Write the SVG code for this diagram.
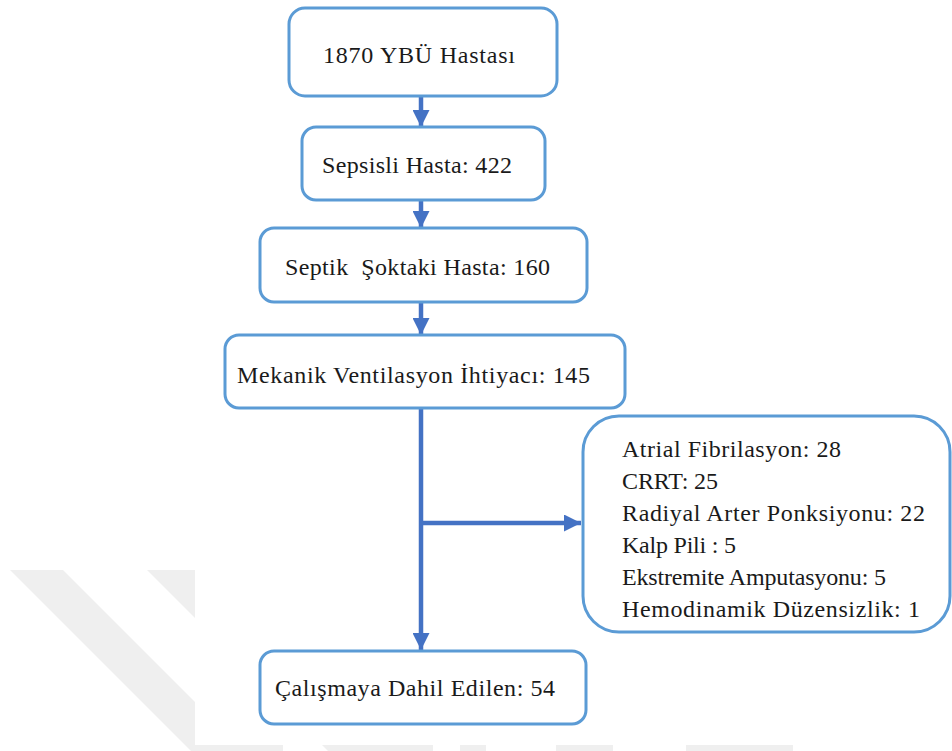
<svg xmlns="http://www.w3.org/2000/svg" width="952" height="751" viewBox="0 0 952 751">
<style>
.box{fill:#ffffff;stroke:#5B9BD5;stroke-width:3}
.c{stroke:#4472C4;stroke-width:4.5;fill:none}
.wm{fill:#efefef}
</style>
<defs>
<marker id="ah" markerUnits="userSpaceOnUse" markerWidth="17" markerHeight="17" refX="17" refY="8.5" orient="auto">
<path d="M0,0 L17,8.5 L0,17 Z" fill="#4472C4"/>
</marker>
</defs>
<rect width="952" height="751" fill="#ffffff"/>
<g id="watermark">
<polygon class="wm" points="10,570 63,570 244,751 191,751"/>
<polygon class="wm" points="147,570 197,570 378,751 328,751"/>
<rect x="195" y="0" width="757" height="745" fill="#ffffff"/>
<rect class="wm" x="195" y="745" width="88" height="6"/>
<rect class="wm" x="330" y="745" width="103" height="6"/>
<rect class="wm" x="460" y="745" width="26" height="6"/>
<rect class="wm" x="556" y="745" width="57" height="6"/>
<rect class="wm" x="686" y="745" width="107" height="6"/>
</g>
<g id="connectors">
<line class="c" x1="421" y1="97" x2="421" y2="127" marker-end="url(#ah)"/>
<line class="c" x1="421" y1="200" x2="421" y2="228" marker-end="url(#ah)"/>
<line class="c" x1="421" y1="302" x2="421" y2="335" marker-end="url(#ah)"/>
<line class="c" x1="421" y1="408" x2="421" y2="650" marker-end="url(#ah)"/>
<line class="c" x1="421" y1="523" x2="581" y2="523" marker-end="url(#ah)"/>
</g>
<g font-family="Liberation Serif, Times New Roman, Tinos, Noto Serif, DejaVu Serif, serif" font-size="24" fill="#1a1a1a">
<g id="n1">
<rect class="box" x="289" y="8" width="268" height="88" rx="16"/>
<text x="323" y="63" textLength="192">1870 YBÜ Hastası</text>
</g>
<g id="n2">
<rect class="box" x="302" y="127" width="243" height="73" rx="14"/>
<text x="322" y="173" textLength="190">Sepsisli Hasta: 422</text>
</g>
<g id="n3">
<rect class="box" x="260" y="228" width="327" height="74" rx="14"/>
<text x="285" y="275" textLength="265" xml:space="preserve">Septik  Şoktaki Hasta: 160</text>
</g>
<g id="n4">
<rect class="box" x="225" y="335" width="400" height="73" rx="14"/>
<text x="237" y="383" textLength="353">Mekanik Ventilasyon İhtiyacı: 145</text>
</g>
<g id="n5">
<rect class="box" x="583" y="416" width="367" height="216" rx="36"/>
<text x="622" y="457" textLength="219">Atrial Fibrilasyon: 28</text>
<text x="622" y="489" textLength="96">CRRT: 25</text>
<text x="622" y="521" textLength="303">Radiyal Arter Ponksiyonu: 22</text>
<text x="622" y="553" textLength="114">Kalp Pili : 5</text>
<text x="622" y="585" textLength="264">Ekstremite Amputasyonu: 5</text>
<text x="622" y="617" textLength="298">Hemodinamik Düzensizlik: 1</text>
</g>
<g id="n6">
<rect class="box" x="260" y="651" width="326" height="73" rx="14"/>
<text x="275" y="696" textLength="280">Çalışmaya Dahil Edilen: 54</text>
</g>
</g>
</svg>
